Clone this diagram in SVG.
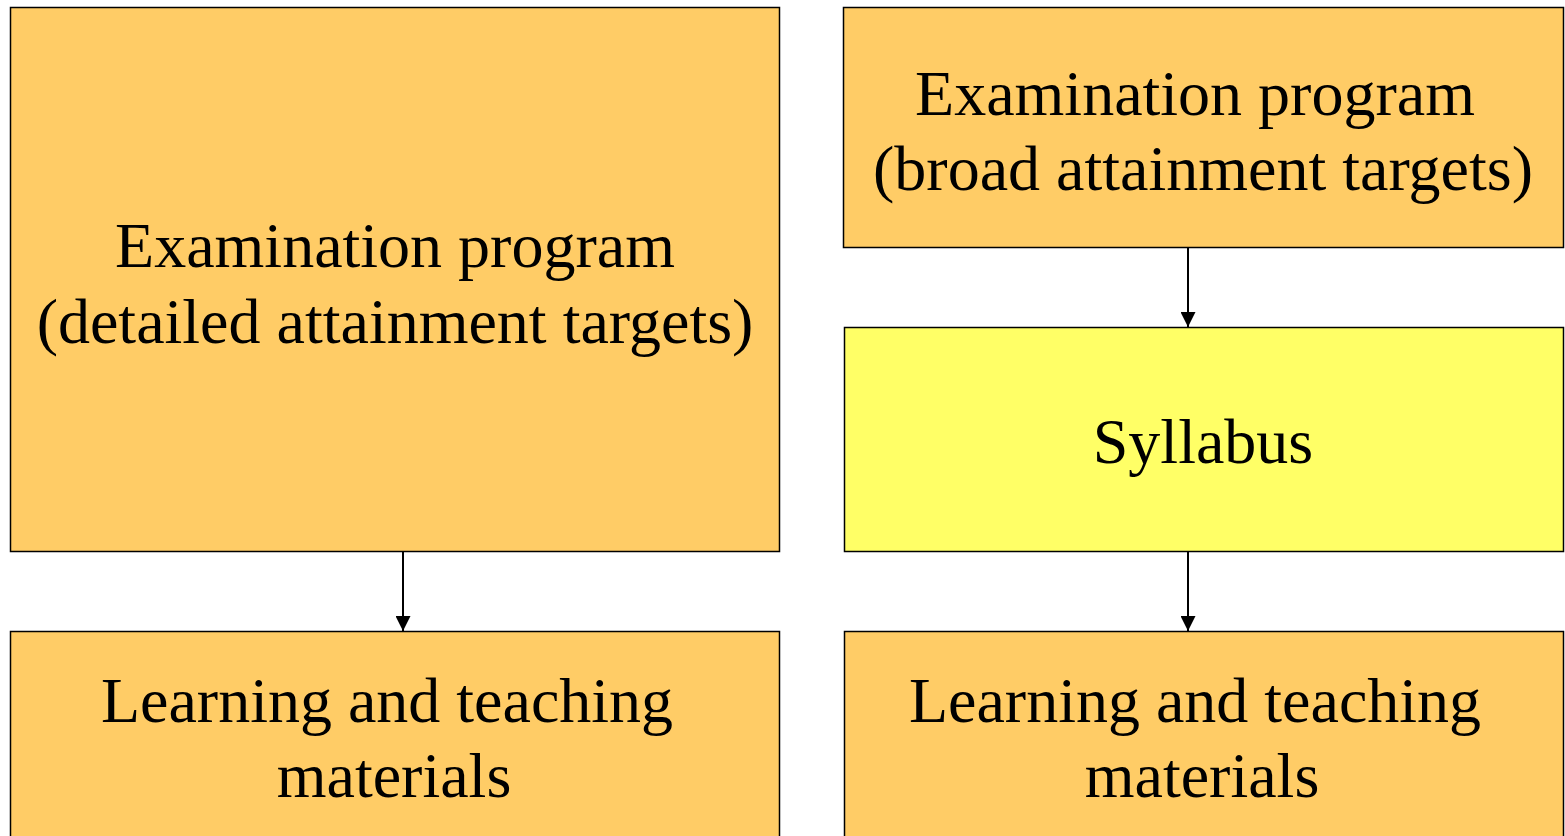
<svg xmlns="http://www.w3.org/2000/svg" width="1565" height="836" viewBox="0 0 1565 836">
  <style>
    .box { stroke: #000; stroke-width: 1.5; }
    .orange { fill: #FFCC66; }
    .yellow { fill: #FFFF66; }
    .label { font-family: "Liberation Serif", "Times New Roman", serif; font-size: 64px; fill: #000; text-anchor: middle; }
    .edge { stroke: #000; stroke-width: 2; fill: none; }
  </style>
  <defs>
    <marker id="arrow" markerWidth="15" markerHeight="15" refX="15" refY="7.5" orient="auto" markerUnits="userSpaceOnUse">
      <path d="M0,0 L15,7.5 L0,15 Z" fill="#000"/>
    </marker>
  </defs>
  <rect width="1565" height="836" fill="#fff"/>

  <g id="exam-detailed">
    <rect class="box orange" x="10.5" y="7.5" width="769" height="544"/>
    <text class="label" x="395" y="267">Examination program</text>
    <text class="label" x="395" y="343">(detailed attainment targets)</text>
  </g>

  <g id="materials-left">
    <rect class="box orange" x="10.5" y="631.5" width="769" height="220"/>
    <text class="label" x="387" y="722">Learning and teaching</text>
    <text class="label" x="394" y="797">materials</text>
  </g>

  <g id="exam-broad">
    <rect class="box orange" x="843.5" y="7.5" width="720" height="240"/>
    <text class="label" x="1195" y="115">Examination program</text>
    <text class="label" x="1203" y="190">(broad attainment targets)</text>
  </g>

  <g id="syllabus">
    <rect class="box yellow" x="844.5" y="327.5" width="719" height="224"/>
    <text class="label" x="1203" y="463">Syllabus</text>
  </g>

  <g id="materials-right">
    <rect class="box orange" x="844.5" y="631.5" width="719" height="220"/>
    <text class="label" x="1195" y="722">Learning and teaching</text>
    <text class="label" x="1202" y="797">materials</text>
  </g>

  <g id="connectors">
    <line class="edge" x1="403" y1="552" x2="403" y2="631" marker-end="url(#arrow)"/>
    <line class="edge" x1="1188" y1="248" x2="1188" y2="327" marker-end="url(#arrow)"/>
    <line class="edge" x1="1188" y1="552" x2="1188" y2="631" marker-end="url(#arrow)"/>
  </g>
</svg>
